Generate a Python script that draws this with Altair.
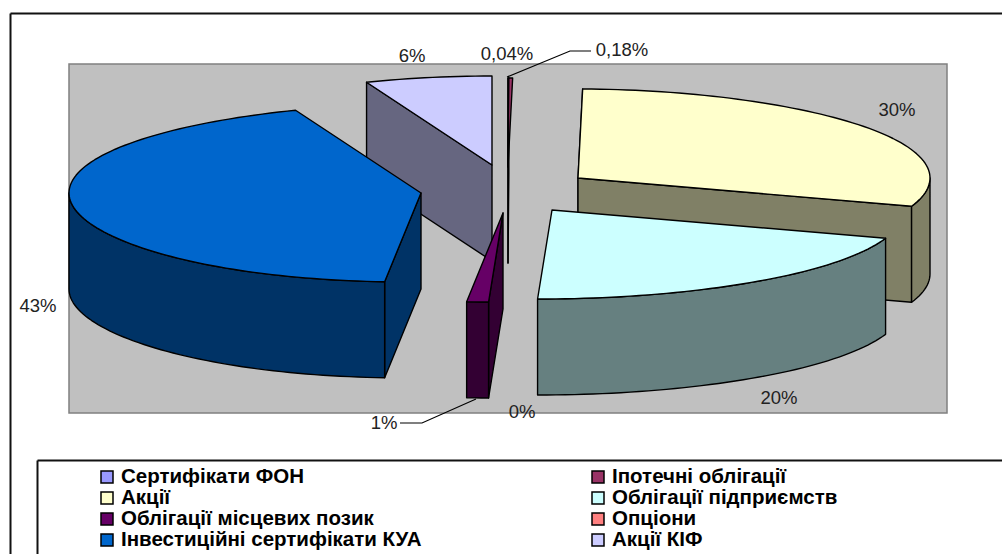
import math
import altair as alt

# Portfolio shares in percent, in drawing order clockwise from 12 o'clock
categories = ["Сертифікати ФОН", "Іпотечні облігації", "Акції", "Облігації підприємств",
              "Облігації місцевих позик", "Опціони", "Інвестиційні сертифікати КУА", "Акції КІФ"]
shares = [0.04, 0.18, 30, 20, 1, 0, 43, 6]
share_labels = ["0,04%", "0,18%", "30%", "20%", "1%", "0%", "43%", "6%"]
top_colors = ["#9999FF", "#993366", "#FFFFCC", "#CCFFFF", "#660066", "#FF8080", "#0066CC", "#CCCCFF"]
side_colors = ["#4C4C80", "#4C1933", "#808066", "#668080", "#330033", "#804040", "#003366", "#666680"]

# Layout of the tilted pie, in pixels
W, H = 1002, 554
RX, RY, DEPTH = 352, 89, 96
exploded_apex = [(508, 167), (508, 167), (578, 178), (552, 210), (503, 213), (522, 300), (421, 193), (492, 165)]
label_anchor = [(507, 54), (622, 50), (897, 110), (779, 398), (384, 423), (522, 412), (38, 306), (412, 56)]
draw_order = [7, 0, 1, 2, 6, 3, 4, 5]


def rim_point(apex, deg):
    a = math.radians(deg)
    c = math.cos(a)
    # perspective: the far edge narrows and the near edge leans left
    dx = RX * math.sin(a)
    if c > 0:
        dx *= 1 - 0.04 * c ** 4
    else:
        dx -= 12 * c ** 4
    return (apex[0] + dx, apex[1] - RY * c)


def dropped(p):
    return (p[0], p[1] + DEPTH)


def polygon(points, fill):
    ring = [list(p) for p in points]
    ring.append(ring[0])
    return {"type": "Feature", "geometry": {"type": "Polygon", "coordinates": [ring]},
            "properties": {"fill": fill}}


def arc_points(apex, start, end):
    n = max(2, int(abs(end - start) / 1.5) + 2)
    return [rim_point(apex, start + (end - start) * i / (n - 1)) for i in range(n)]


total = sum(shares)
bounds, running = [], 0.0
for s in shares:
    bounds.append((running / total * 360, (running + s) / total * 360))
    running += s

features = []
for i in draw_order:
    if shares[i] == 0:
        continue
    start, end = bounds[i]
    apex = exploded_apex[i]
    # cut faces turned towards the viewer
    if start >= 180 or start < 1:
        p = rim_point(apex, start)
        features.append(polygon([apex, p, dropped(p), dropped(apex)], side_colors[i]))
    if 90 < end <= 180:
        p = rim_point(apex, end)
        features.append(polygon([apex, p, dropped(p), dropped(apex)], side_colors[i]))
    # outer wall, front half only
    lo, hi = max(start, 90), min(end, 270)
    if lo < hi:
        rim = arc_points(apex, lo, hi)
        features.append(polygon(rim + [dropped(p) for p in reversed(rim)], side_colors[i]))
    features.append(polygon([apex] + arc_points(apex, start, end), top_colors[i]))

X = alt.X("x:Q", scale=None)
Y = alt.Y("y:Q", scale=None)
X2 = alt.X2("x2:Q")
Y2 = alt.Y2("y2:Q")


def frame_rule(x, y, x2, y2, color="#111111", width=2.0):
    return alt.Chart(alt.Data(values=[{"x": x, "y": y, "x2": x2, "y2": y2}])).mark_rule(
        color=color, strokeWidth=width).encode(x=X, y=Y, x2=X2, y2=Y2)


outer_frame = [frame_rule(10.5, 13.5, W, 13.5), frame_rule(10.5, 13.5, 10.5, H)]
legend_frame = [frame_rule(37.5, 460.5, W, 460.5), frame_rule(37.5, 460.5, 37.5, H)]

plot_wall = alt.Chart(alt.Data(values=[{"x": 69, "y": 64, "x2": 947, "y2": 413}])).mark_rect(
    fill="#C0C0C0", stroke="#808080", strokeWidth=1.5).encode(x=X, y=Y, x2=X2, y2=Y2)

pie = alt.Chart(alt.Data(values=features)).mark_geoshape(
    stroke="#000000", strokeWidth=1.4, strokeJoin="round"
).encode(fill=alt.Fill("properties.fill:N", scale=None)).project(
    type="identity", scale=1, translate=[0, 0])

leader_rows = []
for k, pts in enumerate([[(507, 77), (570, 51), (591, 51)], [(476, 399), (422, 423), (400, 423)]]):
    for n, (x, y) in enumerate(pts):
        leader_rows.append({"x": x, "y": y, "line": k, "n": n})
leaders = alt.Chart(alt.Data(values=leader_rows)).mark_line(color="#000000", strokeWidth=1.2).encode(
    x=X, y=Y, detail="line:N", order="n:Q")

value_rows = [{"x": a[0], "y": a[1], "t": t} for a, t in zip(label_anchor, share_labels)]
value_text = alt.Chart(alt.Data(values=value_rows)).mark_text(
    font="Liberation Sans", fontSize=18.5, color="#222222", align="center", baseline="middle"
).encode(x=X, y=Y, text="t:N")

legend_rows_y = [477, 498, 519, 540]
legend_columns_x = [101, 592]
swatch_rows, legend_rows = [], []
for i, (name, color) in enumerate(zip(categories, top_colors)):
    lx = legend_columns_x[i % 2]
    ly = legend_rows_y[i // 2]
    swatch_rows.append({"x": lx, "y": ly - 6, "x2": lx + 12, "y2": ly + 6, "fill": color})
    legend_rows.append({"x": lx + 20, "y": ly, "t": name})

swatches = alt.Chart(alt.Data(values=swatch_rows)).mark_rect(stroke="#000000", strokeWidth=1.5).encode(
    x=X, y=Y, x2=X2, y2=Y2, fill=alt.Fill("fill:N", scale=None))
legend_text = alt.Chart(alt.Data(values=legend_rows)).mark_text(
    font="Liberation Sans", fontWeight="bold", fontSize=20.5, color="#000000", align="left", baseline="middle"
).encode(x=X, y=Y, text="t:N")

chart = alt.layer(
    *outer_frame, *legend_frame, plot_wall, pie, leaders, value_text, swatches, legend_text
).properties(
    width=W, height=H, padding=0, autosize=alt.AutoSizeParams(type="none"), background="#FFFFFF"
).configure_view(stroke=None)

chart.save("out.html", embed_options={"renderer": "svg", "actions": False})
